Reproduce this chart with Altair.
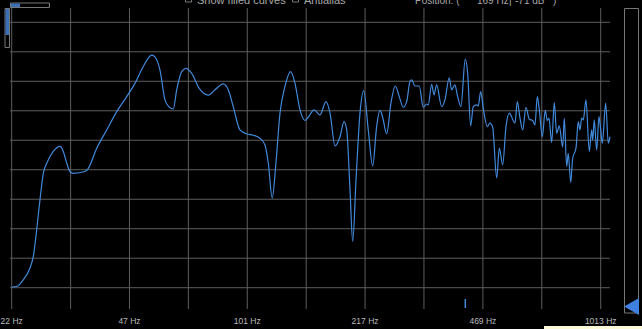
import altair as alt
import pandas as pd

# ---- data ----
freq_hz = [22.0, 22.73, 23.72, 24.78, 25.32, 25.88, 26.44, 27.02, 27.63, 28.83, 30.12, 30.77, 31.47, 32.14,
           32.84, 35.44, 36.21, 38.24, 40.81, 43.55, 46.48,
           49.04, 51.76, 54.67, 55.85, 57.70, 59.60, 60.90, 62.91, 64.32, 66.44, 68.33,
           70.90, 74.49, 78.97, 82.49, 87.06, 89.94, 92.91, 97.05, 101.37,
           105.8, 110.5, 114.2, 116.7, 119.7, 122.6, 125.9, 130.0, 134.9, 138.8, 143.4, 148.1,
           151.3, 157.1, 163.3, 169.8, 174.3, 180.1, 186.0, 190.9, 194.3, 198.5, 202.0, 206.4, 211.8, 217.0,
           223.5, 230.0, 236.0, 241.2, 245.4, 251.9, 259.0, 266.4, 273.4, 280.6, 286.9, 293.1, 296.4, 302.8, 311.4,
           319.5, 326.7, 330.1, 337.5, 342.6, 348.6, 360.2, 368.0, 378.4, 384.3, 392.7, 398.6, 408.3, 419.9,
           426.5, 434.9, 442.3, 452.2, 456.9, 464.1,
           472.1, 484.6, 493.2, 501.9, 515.1, 523.9, 535.6, 547.2, 559.1, 580.2, 589.0, 599.4, 610.0, 623.2,
           636.8, 651.0, 660.8, 670.7, 679.5,
           692.9, 706.5, 715.7, 723.7, 736.5, 749.1, 760.8, 773.8, 791.2, 799.4, 812.0, 820.4, 833.4, 844.3,
           862.6, 875.5, 885.3, 895.2, 904.5, 920.5, 940.5, 955.3, 961.5, 971.5, 986.8, 1001.7,
           1013.0, 1023.6, 1046.4, 1064.3, 1076.1]
level_db = [-89.8, -89.6, -87.3, -83.3, -79.4, -70.4, -60.2, -51.2, -47.8, -43.8, -42.1, -43.8, -47.8, -50.6,
            -51.2, -50.6, -49.5, -42.7, -36.5, -30.3, -25.2,
            -20.7, -15.0, -11.1, -11.7, -16.2, -26.3, -28.4, -29.4, -22.9, -16.7, -15.6,
            -17.3, -22.4, -24.7, -22.9, -20.9, -22.9, -28.6, -36.5, -37.8,
            -38.3, -39.3, -41.6, -47.8, -59.6, -47.8, -30.8, -21.8, -16.7, -20.7, -29.7, -33.3,
            -32.2, -29.7, -31.4, -26.9, -30.8, -41.9, -38.8, -33.7, -36.5, -56.8, -74.3, -53.4, -30.8, -23.2,
            -36.5, -48.7, -35.4, -29.9, -32.2, -37.8, -27.4, -21.6, -25.2, -28.8, -26.9, -20.1, -19.5, -21.6, -21.6,
            -28.8, -27.7, -28.0, -21.0, -24.6, -21.2, -28.6, -26.3, -18.8, -22.9, -21.2, -24.6, -28.6, -12.5,
            -17.3, -35.1, -28.6, -28.0, -28.4, -23.5,
            -29.1, -35.4, -34.2, -35.6, -52.8, -42.7, -48.3, -35.4, -30.8, -34.2, -26.9, -32.5, -36.5, -28.8,
            -32.9, -33.3, -34.8, -25.2, -29.7,
            -38.8, -29.9, -33.3, -32.5, -40.8, -27.2, -37.6, -35.1, -42.3, -32.5, -48.9, -44.4, -54.3, -46.1,
            -42.7, -33.7, -36.5, -32.5, -33.1, -26.3, -43.8, -36.5, -39.9, -33.1, -43.3, -32.0,
            -36.5, -41.0, -27.4, -41.0, -38.8]

grid_freqs = [22.0, 32.27, 47.32, 69.39, 101.77, 149.3, 218.9, 321.0, 470.9, 690.6, 1013.0]
grid_db = [0, -10, -20, -30, -40, -50, -60, -70, -80, -90]
tick_freqs = [22.0, 47.32, 101.77, 218.9, 470.9, 1013.0]
tick_labels = ["22 Hz", "47 Hz", "101 Hz", "217 Hz", "469 Hz", "1013 Hz"]

curve = pd.DataFrame({"freq": freq_hz, "db": level_db})
vgrid = pd.DataFrame({"freq": grid_freqs})
hgrid = pd.DataFrame({"db": grid_db})
ticks = pd.DataFrame({"freq": tick_freqs, "label": tick_labels})
one = pd.DataFrame({"k": [0]})

xs = alt.Scale(type="log", domain=[20.39, 1325], nice=False)
ys = alt.Scale(domain=[-104.0, 7.56], nice=False, zero=False)

GRID = "#5e5e5e"
TXT = "#b8b8b8"
BLUE = "#4189da"

vlines = alt.Chart(vgrid).mark_rule(color=GRID, strokeWidth=1).encode(
    x=alt.X("freq:Q", scale=xs, axis=None),
    y=alt.value(8), y2=alt.value(309))

hlines = alt.Chart(hgrid).mark_rule(color=GRID, strokeWidth=1).encode(
    y=alt.Y("db:Q", scale=ys, axis=None),
    x=alt.value(10), x2=alt.value(610))

line = alt.Chart(curve).mark_line(color=BLUE, strokeWidth=1.2, interpolate="monotone").encode(
    x=alt.X("freq:Q", scale=xs, axis=None),
    y=alt.Y("db:Q", scale=ys, axis=None))

labels = alt.Chart(ticks).mark_text(color=TXT, fontSize=8.5, font="Liberation Sans",
                                    align="center", baseline="middle").encode(
    x=alt.X("freq:Q", scale=xs, axis=None),
    y=alt.value(321),
    text="label:N")

def box(x1, x2, y1, y2, fill="transparent", stroke="#777777", sw=1):
    return alt.Chart(one).mark_rect(fill=fill, stroke=stroke, strokeWidth=sw).encode(
        x=alt.value(x1), x2=alt.value(x2), y=alt.value(y1), y2=alt.value(y2))

widgets = [
    box(10.5, 49.5, 3, 7.5),
    box(11, 20, 3.5, 7, fill="#3a6fb8", stroke="transparent", sw=0),
    box(5, 9.5, 8.5, 47.5),
    box(5.5, 9, 9, 35, fill="#3a6fb8", stroke="transparent", sw=0),
    box(624.5, 638.5, 8.5, 313),
    box(185.5, 191.5, -5, 2),
    box(292.5, 298.5, -5, 2),
    box(544, 642, 326, 329, fill="#fbf9d8", stroke="transparent", sw=0),
]

tri = pd.DataFrame({"px": [624, 639, 639, 624], "py": [306.5, 298, 315, 306.5], "o": [0, 1, 2, 3]})
triangle = alt.Chart(tri).mark_line(color="#3f7fe0", filled=True, fill="#3f7fe0").encode(
    x=alt.X("px:Q", scale=alt.Scale(domain=[0, 642], nice=False), axis=None),
    y=alt.Y("py:Q", scale=alt.Scale(domain=[329, 0], nice=False), axis=None),
    order="o:Q")

marker = alt.Chart(one).mark_rule(color=BLUE, strokeWidth=1.5).encode(
    x=alt.value(465.3), y=alt.value(299), y2=alt.value(308))

def label(txt, x, size=11):
    return alt.Chart(one).mark_text(text=txt, color="#a8a8a8", fontSize=size, font="Liberation Sans",
                                    align="left", baseline="alphabetic").encode(
        x=alt.value(x), y=alt.value(4))

top = [label("Show filled curves", 197), label("Antialias", 304),
       label("Position: (", 415, 10), label("169 Hz", 477, 10), label("|", 509, 10),
       label("-71 dB", 515, 10), label(")", 553, 10)]

chart = alt.layer(vlines, hlines, line, labels, marker, *widgets, triangle, *top).resolve_scale(
    x="independent", y="independent"
).properties(
    width=642, height=329, padding=0, background="#000000",
    autosize=alt.AutoSizeParams(type="none")
).configure_view(strokeWidth=0)

chart.save("out.html", embed_options={"renderer": "svg", "actions": False})
